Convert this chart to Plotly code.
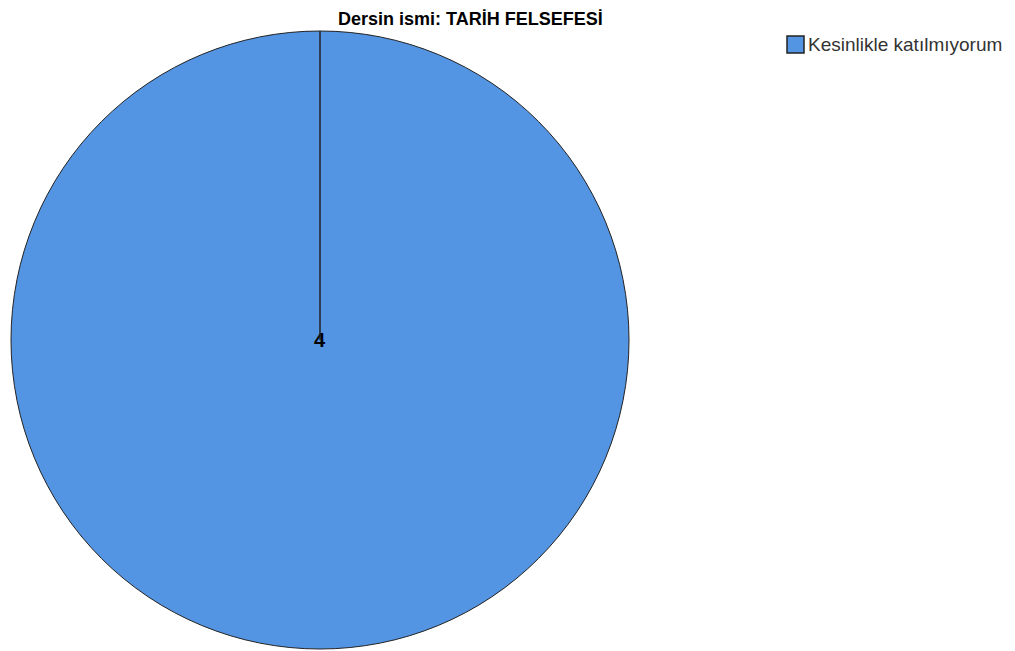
import plotly.graph_objects as go

labels = ["Kesinlikle katılmıyorum"]
values = [4]
colors = ["#5495E3"]
title_text = "Dersin ismi: TARİH FELSEFESİ"

W, H = 1015, 651
OFF = 8  # page body margin offset
cx, cy, r = 320 - OFF, 340 - OFF, 309

def px(x):
    return x / W

def py(y):
    return 1 - y / H

fig = go.Figure()
fig.add_trace(go.Pie(
    labels=labels, values=values,
    marker=dict(colors=colors, line=dict(color="#222222", width=1)),
    textinfo="value", textposition="inside",
    insidetextfont=dict(family="Liberation Sans, Arial", size=20, color="black", weight="bold"),
    sort=False, direction="clockwise", rotation=0,
    domain=dict(x=[px(cx - r), px(cx + r)], y=[py(cy + r), py(cy - r)]),
    hoverinfo="label+value",
    showlegend=False,
))

# radial line from center to top (slice boundary)
fig.add_shape(type="line", xref="paper", yref="paper",
              x0=px(cx), y0=py(cy), x1=px(cx), y1=py(cy - r),
              line=dict(color="#222222", width=1.5))

# legend drawn manually
lx0, ly0, ls = 787 - OFF, 36 - OFF, 17
fig.add_shape(type="rect", xref="paper", yref="paper",
              x0=px(lx0), x1=px(lx0 + ls), y0=py(ly0 + ls), y1=py(ly0),
              fillcolor=colors[0], line=dict(color="#222222", width=1.5))
fig.add_annotation(xref="paper", yref="paper", x=px(lx0 + ls + 2), y=py(ly0 + ls / 2),
                   xanchor="left", yanchor="middle", showarrow=False,
                   text=labels[0],
                   font=dict(family="Liberation Sans, Arial", size=19, color="#333333"))

# title as annotation anchored at the very top so it is not clipped
fig.add_annotation(xref="paper", yref="paper", x=px(470 - OFF), y=1,
                   xanchor="center", yanchor="top", showarrow=False, borderpad=0,
                   text="<b>" + title_text + "</b>",
                   font=dict(family="Liberation Sans, Arial", size=18, color="black"))

fig.update_layout(
    width=W, height=H,
    margin=dict(l=0, r=0, t=0, b=0),
    paper_bgcolor="white", plot_bgcolor="white",
    showlegend=False,
)

fig.write_html("out.html")
